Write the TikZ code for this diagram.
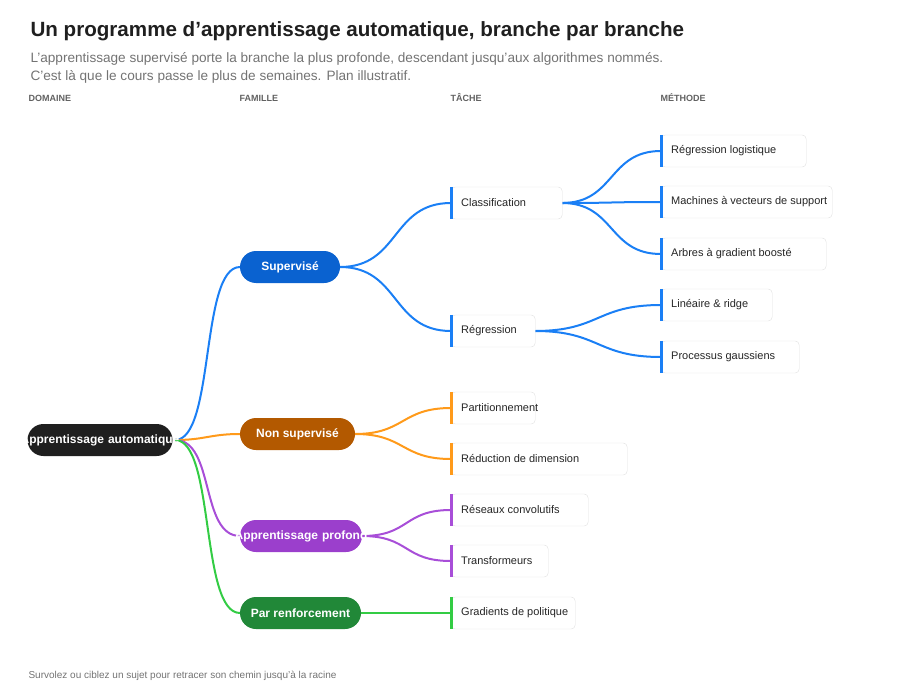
\documentclass[tikz,border=0pt]{standalone}
\usepackage{fontspec}
\setmainfont{Liberation Sans}
\begin{document}
\begin{tikzpicture}[x=1pt,y=-1pt,
 fam/.style={rounded corners=16pt,minimum height=32pt,inner sep=0pt,text=white,font=\fontsize{12}{14}\selectfont\bfseries},
 task/.style={anchor=west,draw=black!12,fill=white,rounded corners=4pt,minimum height=32pt,inner sep=0pt},
 lbl/.style={anchor=west,inner sep=0pt,font=\fontsize{11}{13}\selectfont,text=black!85},
 e/.style={line width=2pt},
 hd/.style={anchor=west,text=black!62,font=\fontsize{9}{11}\selectfont\bfseries}]
\useasboundingbox (0,0) rectangle (900,693);
\definecolor{bl}{HTML}{1A7FF5}\definecolor{or}{HTML}{FF9A1A}
\definecolor{pu}{HTML}{A84ED8}\definecolor{gr}{HTML}{33CC44}
\node[anchor=west,font=\fontsize{20.6}{24}\selectfont\bfseries,text=black!88] (t) at (27,31) {Un programme d'apprentissage automatique, branche par branche};
\node[anchor=west,font=\fontsize{13.6}{16}\selectfont,text=black!55] (s1) at (27,59) {L'apprentissage supervisé porte la branche la plus profonde, descendant jusqu'aux algorithmes nommés.};
\node[anchor=west,font=\fontsize{13.6}{16}\selectfont,text=black!55] (s2) at (27,77) {C'est là que le cours passe le plus de semaines. Plan illustratif.};
\node[hd] (h1) at (25,98) {DOMAINE};
\node[hd] (h2) at (236,98) {FAMILLE};
\node[hd] (h3) at (447,98) {TÂCHE};
\node[hd] (h4) at (657,98) {MÉTHODE};
\node[anchor=west,font=\fontsize{10}{12}\selectfont,text=black!55] (ft) at (25,676) {Survolez ou ciblez un sujet pour retracer son chemin jusqu'à la racine};
% edges
\coordinate (rt) at (175,440);
\draw[e,bl] (rt) .. controls (215,440) and (200,267) .. (240,267);
\draw[e,or] (rt) .. controls (205,440) and (210,434) .. (240,434);
\draw[e,pu] (rt) .. controls (215,440) and (200,536) .. (240,536);
\draw[e,gr] (rt) .. controls (215,440) and (200,613) .. (240,613);
\draw[e,bl] (340,267) .. controls (400,267) and (391,203) .. (451,203);
\draw[e,bl] (340,267) .. controls (400,267) and (391,331) .. (451,331);
\draw[e,or] (355,434) .. controls (405,434) and (401,408) .. (451,408);
\draw[e,or] (355,434) .. controls (405,434) and (401,459) .. (451,459);
\draw[e,pu] (362,536) .. controls (410,536) and (403,510) .. (451,510);
\draw[e,pu] (362,536) .. controls (410,536) and (403,561) .. (451,561);
\draw[e,gr] (361,613) -- (451,613);
\foreach \y in {151,202,254}{\draw[e,bl] (562,203) .. controls (615,203) and (608,\y) .. (661,\y);}
\foreach \y in {305,357}{\draw[e,bl] (535,331) .. controls (600,331) and (596,\y) .. (661,\y);}
% nodes
\node[fam,fill=black!88,text width=145pt,align=center] (root) at (100,440) {\makebox[145pt][c]{Apprentissage automatique}};
\node[fam,fill={rgb,255:red,10;green,98;blue,208},minimum width=100pt] (n1) at (290,267) {Supervisé};
\node[fam,fill={rgb,255:red,179;green,89;blue,0},minimum width=115pt] (n2) at (297.5,434) {Non supervisé};
\node[fam,fill={rgb,255:red,155;green,63;blue,204},text width=122pt,align=center] (n3) at (301,536) {\makebox[122pt][c]{Apprentissage profond}};
\node[fam,fill={rgb,255:red,33;green,136;blue,56},minimum width=121pt] (n4) at (300.5,613) {Par renforcement};
\foreach \n/\x/\y/\w/\c/\t in {
 a/451/203/111/bl/Classification, b/451/331/84/bl/Régression,
 c/451/408/84/or/Partitionnement, d/451/459/176/or/Réduction de dimension,
 f/451/510/137/pu/Réseaux convolutifs, g/451/561/97/pu/Transformeurs,
 h/451/613/124/gr/Gradients de politique,
 m1/661/151/145/bl/Régression logistique, m2/661/202/171/bl/Machines à vecteurs de support,
 m3/661/254/165/bl/Arbres à gradient boosté, m4/661/305/111/bl/Linéaire \& ridge,
 m5/661/357/138/bl/Processus gaussiens}{
 \node[task,minimum width=\w pt] (\n) at (\x,\y) {};
 \draw[line width=3pt,\c] (\n.north west) -- (\n.south west);
 \node[lbl] (\n t) at ([xshift=10pt]\n.west) {\t};
}
\end{tikzpicture}
\end{document}
